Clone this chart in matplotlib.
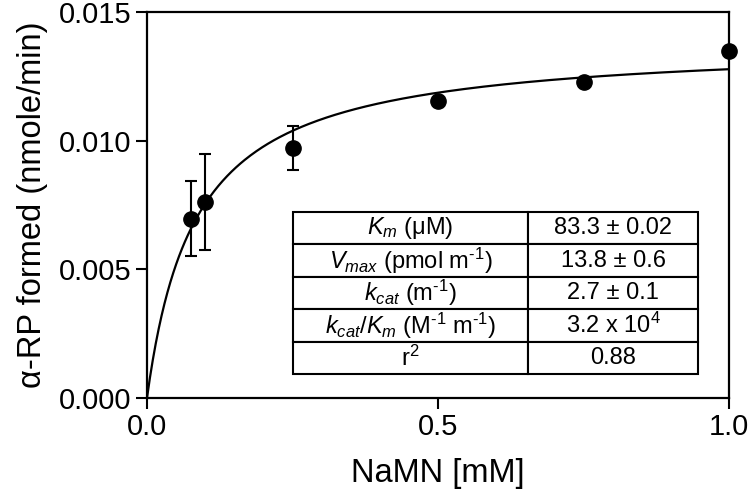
import numpy as np
import matplotlib
matplotlib.use("Agg")
import matplotlib.pyplot as plt

plt.rcParams['font.family'] = ['Liberation Sans', 'DejaVu Sans']
plt.rcParams['mathtext.fontset'] = 'custom'
plt.rcParams['mathtext.rm'] = 'Liberation Sans'
plt.rcParams['mathtext.it'] = 'Liberation Sans:italic'
plt.rcParams['mathtext.bf'] = 'Liberation Sans:bold'

# Data
conc = [0.075, 0.1, 0.25, 0.5, 0.75, 1.0]
rate = [0.00697, 0.00762, 0.00971, 0.01154, 0.01228, 0.01348]
err = [0.00146, 0.00185, 0.00086, 0.0, 0.0, 0.0]

# Michaelis-Menten fit parameters (mM, nmole/min)
Km_fit = 0.0833
Vmax_fit = 0.01384

x_ticks = [0.0, 0.5, 1.0]
x_ticklabels = ["0.0", "0.5", "1.0"]
y_ticks = [0.0, 0.005, 0.010, 0.015]
y_ticklabels = ["0.000", "0.005", "0.010", "0.015"]

table_rows = [
    [r"$K_m$ (μM)", "83.3 ± 0.02"],
    [r"$V_{max}$ (pmol m$^{\mathrm{‐1}}$)", "13.8 ± 0.6"],
    [r"$k_{cat}$ (m$^{\mathrm{‐1}}$)", "2.7 ± 0.1"],
    [r"$k_{cat}$/$K_m$ (M$^{\mathrm{‐1}}$ m$^{\mathrm{‐1}}$)", r"3.2 x 10$^{4}$"],
    [r"r$^{2}$", "0.88"],
]

fig = plt.figure(figsize=(7.5, 4.98), dpi=100)
ax = fig.add_axes([0.196, 0.2008, 0.776, 0.7752])

xs = np.linspace(0, 1.0, 400)
ax.plot(xs, Vmax_fit * xs / (Km_fit + xs), color='black', lw=1.6, zorder=2)

ax.errorbar(conc, rate, yerr=err, fmt='o', color='black', ms=11,
            elinewidth=1.5, capsize=4, capthick=1.5, zorder=3, clip_on=False)

ax.set_xlim(0, 1.0)
ax.set_ylim(0, 0.015)
ax.set_xticks(x_ticks)
ax.set_xticklabels(x_ticklabels)
ax.set_yticks(y_ticks)
ax.set_yticklabels(y_ticklabels)
ax.tick_params(direction='out', length=8, width=1.5, labelsize=21, pad=3)
for s in ax.spines.values():
    s.set_linewidth(1.6)

ax.set_xlabel("NaMN [mM]", fontsize=23.5, labelpad=12)
ax.set_ylabel("α-RP formed (nmole/min)", fontsize=23.5, labelpad=8)

tbl = ax.table(cellText=table_rows, cellLoc='center',
               colWidths=[0.58, 0.42],
               bbox=[0.251, 0.062, 0.696, 0.42])
tbl.auto_set_font_size(False)
tbl.set_fontsize(17)
for (r, c), cell in tbl.get_celld().items():
    cell.set_linewidth(1.5)
    cell.set_edgecolor('black')
    cell.set_facecolor('white')

fig.savefig("out.png", dpi=100)
